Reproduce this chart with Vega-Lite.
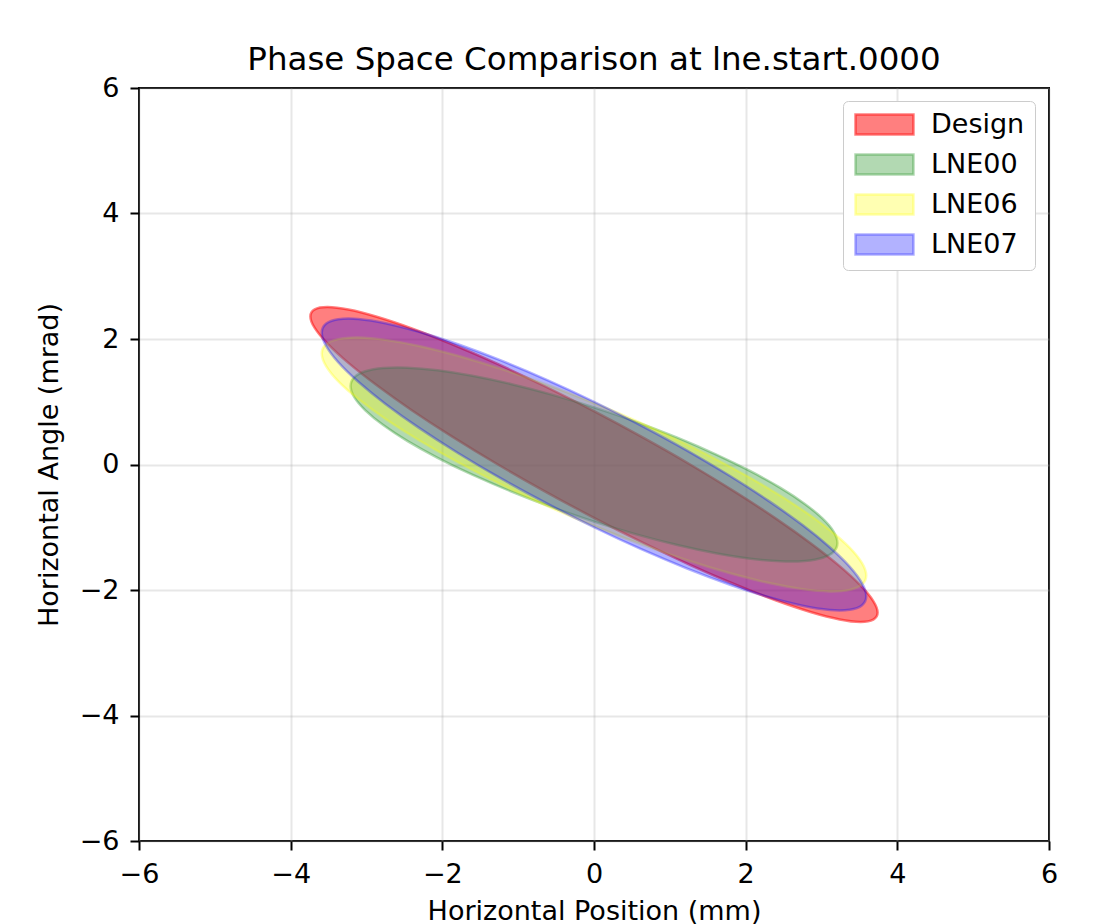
{
  "$schema": "https://vega.github.io/schema/vega-lite/v6.json",
  "autosize": {"type": "none"},
  "width": 910,
  "height": 753,
  "padding": {"left": 139, "top": 88, "right": 66, "bottom": 83},
  "background": "white",
  "title": {"text": "Phase Space Comparison at lne.start.0000", "font": "DejaVu Sans", "fontSize": 32.5, "fontWeight": "normal", "color": "black", "anchor": "middle", "baseline": "alphabetic", "offset": -28},
  "config": {
    "view": {"stroke": "black", "strokeWidth": 2},
    "axis": {"domain": false, "grid": true, "gridColor": "#b0b0b0", "gridOpacity": 0.3, "gridWidth": 2, "ticks": true, "tickColor": "black", "tickWidth": 2, "tickSize": 9, "labelFont": "DejaVu Sans", "labelFontSize": 27, "labelColor": "black", "labelPadding": 11, "labelFlush": false, "labelOverlap": false, "titleFont": "DejaVu Sans", "titleFontSize": 27, "titleFontWeight": "normal", "titleColor": "black", "labelExpr": "replace(datum.label, '-', '−')"},
    "legend": {"labelFont": "DejaVu Sans", "labelFontSize": 27, "labelColor": "black"}
  },
  "data": {"values": [
    {"s":"Design","i":0,"x":3.74,"y":-2.36},{"s":"Design","i":1,"x":3.683,"y":-2.176},{"s":"Design","i":2,"x":3.514,"y":-1.927},{"s":"Design","i":3,"x":3.239,"y":-1.619},{"s":"Design","i":4,"x":2.865,"y":-1.262},{"s":"Design","i":5,"x":2.404,"y":-0.866},{"s":"Design","i":6,"x":1.87,"y":-0.444},{"s":"Design","i":7,"x":1.279,"y":-0.008},{"s":"Design","i":8,"x":0.649,"y":0.427},{"s":"Design","i":9,"x":0,"y":0.85},{"s":"Design","i":10,"x":-0.649,"y":1.247},{"s":"Design","i":11,"x":-1.279,"y":1.606},{"s":"Design","i":12,"x":-1.87,"y":1.916},{"s":"Design","i":13,"x":-2.404,"y":2.168},{"s":"Design","i":14,"x":-2.865,"y":2.354},{"s":"Design","i":15,"x":-3.239,"y":2.469},{"s":"Design","i":16,"x":-3.514,"y":2.509},{"s":"Design","i":17,"x":-3.683,"y":2.472},{"s":"Design","i":18,"x":-3.74,"y":2.36},{"s":"Design","i":19,"x":-3.683,"y":2.176},{"s":"Design","i":20,"x":-3.514,"y":1.927},{"s":"Design","i":21,"x":-3.239,"y":1.619},{"s":"Design","i":22,"x":-2.865,"y":1.262},{"s":"Design","i":23,"x":-2.404,"y":0.866},{"s":"Design","i":24,"x":-1.87,"y":0.444},{"s":"Design","i":25,"x":-1.279,"y":0.008},{"s":"Design","i":26,"x":-0.649,"y":-0.427},{"s":"Design","i":27,"x":0,"y":-0.85},{"s":"Design","i":28,"x":0.649,"y":-1.247},{"s":"Design","i":29,"x":1.279,"y":-1.606},{"s":"Design","i":30,"x":1.87,"y":-1.916},{"s":"Design","i":31,"x":2.404,"y":-2.168},{"s":"Design","i":32,"x":2.865,"y":-2.354},{"s":"Design","i":33,"x":3.239,"y":-2.469},{"s":"Design","i":34,"x":3.514,"y":-2.509},{"s":"Design","i":35,"x":3.683,"y":-2.472},
    {"s":"LNE00","i":0,"x":3.21,"y":-1.25},{"s":"LNE00","i":1,"x":3.161,"y":-1.073},{"s":"LNE00","i":2,"x":3.016,"y":-0.864},{"s":"LNE00","i":3,"x":2.78,"y":-0.628},{"s":"LNE00","i":4,"x":2.459,"y":-0.373},{"s":"LNE00","i":5,"x":2.063,"y":-0.107},{"s":"LNE00","i":6,"x":1.605,"y":0.163},{"s":"LNE00","i":7,"x":1.098,"y":0.427},{"s":"LNE00","i":8,"x":0.557,"y":0.679},{"s":"LNE00","i":9,"x":0,"y":0.91},{"s":"LNE00","i":10,"x":-0.557,"y":1.113},{"s":"LNE00","i":11,"x":-1.098,"y":1.283},{"s":"LNE00","i":12,"x":-1.605,"y":1.413},{"s":"LNE00","i":13,"x":-2.063,"y":1.501},{"s":"LNE00","i":14,"x":-2.459,"y":1.543},{"s":"LNE00","i":15,"x":-2.78,"y":1.538},{"s":"LNE00","i":16,"x":-3.016,"y":1.486},{"s":"LNE00","i":17,"x":-3.161,"y":1.389},{"s":"LNE00","i":18,"x":-3.21,"y":1.25},{"s":"LNE00","i":19,"x":-3.161,"y":1.073},{"s":"LNE00","i":20,"x":-3.016,"y":0.864},{"s":"LNE00","i":21,"x":-2.78,"y":0.628},{"s":"LNE00","i":22,"x":-2.459,"y":0.373},{"s":"LNE00","i":23,"x":-2.063,"y":0.107},{"s":"LNE00","i":24,"x":-1.605,"y":-0.163},{"s":"LNE00","i":25,"x":-1.098,"y":-0.427},{"s":"LNE00","i":26,"x":-0.557,"y":-0.679},{"s":"LNE00","i":27,"x":0,"y":-0.91},{"s":"LNE00","i":28,"x":0.557,"y":-1.113},{"s":"LNE00","i":29,"x":1.098,"y":-1.283},{"s":"LNE00","i":30,"x":1.605,"y":-1.413},{"s":"LNE00","i":31,"x":2.063,"y":-1.501},{"s":"LNE00","i":32,"x":2.459,"y":-1.543},{"s":"LNE00","i":33,"x":2.78,"y":-1.538},{"s":"LNE00","i":34,"x":3.016,"y":-1.486},{"s":"LNE00","i":35,"x":3.161,"y":-1.389},
    {"s":"LNE06","i":0,"x":3.59,"y":-1.77},{"s":"LNE06","i":1,"x":3.535,"y":-1.573},{"s":"LNE06","i":2,"x":3.374,"y":-1.328},{"s":"LNE06","i":3,"x":3.109,"y":-1.043},{"s":"LNE06","i":4,"x":2.75,"y":-0.726},{"s":"LNE06","i":5,"x":2.308,"y":-0.387},{"s":"LNE06","i":6,"x":1.795,"y":-0.036},{"s":"LNE06","i":7,"x":1.228,"y":0.316},{"s":"LNE06","i":8,"x":0.623,"y":0.658},{"s":"LNE06","i":9,"x":0,"y":0.98},{"s":"LNE06","i":10,"x":-0.623,"y":1.272},{"s":"LNE06","i":11,"x":-1.228,"y":1.526},{"s":"LNE06","i":12,"x":-1.795,"y":1.734},{"s":"LNE06","i":13,"x":-2.308,"y":1.889},{"s":"LNE06","i":14,"x":-2.75,"y":1.986},{"s":"LNE06","i":15,"x":-3.109,"y":2.023},{"s":"LNE06","i":16,"x":-3.374,"y":1.998},{"s":"LNE06","i":17,"x":-3.535,"y":1.913},{"s":"LNE06","i":18,"x":-3.59,"y":1.77},{"s":"LNE06","i":19,"x":-3.535,"y":1.573},{"s":"LNE06","i":20,"x":-3.374,"y":1.328},{"s":"LNE06","i":21,"x":-3.109,"y":1.043},{"s":"LNE06","i":22,"x":-2.75,"y":0.726},{"s":"LNE06","i":23,"x":-2.308,"y":0.387},{"s":"LNE06","i":24,"x":-1.795,"y":0.036},{"s":"LNE06","i":25,"x":-1.228,"y":-0.316},{"s":"LNE06","i":26,"x":-0.623,"y":-0.658},{"s":"LNE06","i":27,"x":0,"y":-0.98},{"s":"LNE06","i":28,"x":0.623,"y":-1.272},{"s":"LNE06","i":29,"x":1.228,"y":-1.526},{"s":"LNE06","i":30,"x":1.795,"y":-1.734},{"s":"LNE06","i":31,"x":2.308,"y":-1.889},{"s":"LNE06","i":32,"x":2.75,"y":-1.986},{"s":"LNE06","i":33,"x":3.109,"y":-2.023},{"s":"LNE06","i":34,"x":3.374,"y":-1.998},{"s":"LNE06","i":35,"x":3.535,"y":-1.913},
    {"s":"LNE07","i":0,"x":3.59,"y":-2.1},{"s":"LNE07","i":1,"x":3.535,"y":-1.894},{"s":"LNE07","i":2,"x":3.374,"y":-1.631},{"s":"LNE07","i":3,"x":3.109,"y":-1.319},{"s":"LNE07","i":4,"x":2.75,"y":-0.966},{"s":"LNE07","i":5,"x":2.308,"y":-0.584},{"s":"LNE07","i":6,"x":1.795,"y":-0.184},{"s":"LNE07","i":7,"x":1.228,"y":0.222},{"s":"LNE07","i":8,"x":0.623,"y":0.62},{"s":"LNE07","i":9,"x":0,"y":1.0},{"s":"LNE07","i":10,"x":-0.623,"y":1.35},{"s":"LNE07","i":11,"x":-1.228,"y":1.658},{"s":"LNE07","i":12,"x":-1.795,"y":1.916},{"s":"LNE07","i":13,"x":-2.308,"y":2.116},{"s":"LNE07","i":14,"x":-2.75,"y":2.252},{"s":"LNE07","i":15,"x":-3.109,"y":2.319},{"s":"LNE07","i":16,"x":-3.374,"y":2.315},{"s":"LNE07","i":17,"x":-3.535,"y":2.242},{"s":"LNE07","i":18,"x":-3.59,"y":2.1},{"s":"LNE07","i":19,"x":-3.535,"y":1.894},{"s":"LNE07","i":20,"x":-3.374,"y":1.631},{"s":"LNE07","i":21,"x":-3.109,"y":1.319},{"s":"LNE07","i":22,"x":-2.75,"y":0.966},{"s":"LNE07","i":23,"x":-2.308,"y":0.584},{"s":"LNE07","i":24,"x":-1.795,"y":0.184},{"s":"LNE07","i":25,"x":-1.228,"y":-0.222},{"s":"LNE07","i":26,"x":-0.623,"y":-0.62},{"s":"LNE07","i":27,"x":0,"y":-1.0},{"s":"LNE07","i":28,"x":0.623,"y":-1.35},{"s":"LNE07","i":29,"x":1.228,"y":-1.658},{"s":"LNE07","i":30,"x":1.795,"y":-1.916},{"s":"LNE07","i":31,"x":2.308,"y":-2.116},{"s":"LNE07","i":32,"x":2.75,"y":-2.252},{"s":"LNE07","i":33,"x":3.109,"y":-2.319},{"s":"LNE07","i":34,"x":3.374,"y":-2.315},{"s":"LNE07","i":35,"x":3.535,"y":-2.242}
  ]},
  "encoding": {
    "x": {"field": "x", "type": "quantitative", "scale": {"domain": [-6, 6], "nice": false, "zero": false}, "axis": {"values": [-6, -4, -2, 0, 2, 4, 6], "title": "Horizontal Position (mm)", "titleBaseline": "alphabetic", "titleX": 455, "titleY": 78}},
    "y": {"field": "y", "type": "quantitative", "scale": {"domain": [-6, 6], "nice": false, "zero": false}, "axis": {"values": [-6, -4, -2, 0, 2, 4, 6], "title": "Horizontal Angle (mrad)", "titleBaseline": "alphabetic", "titleAngle": -90, "titleX": -82, "titleY": 376.5, "titleAlign": "center"}},
    "order": {"field": "i", "type": "quantitative"},
    "fill": {"field": "s", "type": "nominal", "scale": {"domain": ["Design", "LNE00", "LNE06", "LNE07"], "range": ["#ff0000", "#008000", "#ffff00", "#0000ff"]}, "legend": {"title": null, "orient": "none", "legendX": 704, "legendY": 13, "padding": 10, "fillColor": "white", "strokeColor": "#cccccc", "cornerRadius": 5, "symbolType": "M-1,-0.9H4.27V0.9H-1Z", "symbolSize": 484, "symbolStrokeWidth": 2.5, "labelOffset": 51, "rowPadding": 9, "labelBaseline": "middle", "encode": {"symbols": {"update": {"fill": {"scale": "fill", "field": "value"}, "stroke": {"scale": "stroke", "field": "value"}, "fillOpacity": {"signal": "datum.value === 'Design' ? 0.5 : 0.3"}, "strokeOpacity": {"signal": "datum.value === 'Design' ? 0.5 : 0.3"}, "opacity": {"value": 1}}}}}},
    "stroke": {"field": "s", "type": "nominal", "scale": {"domain": ["Design", "LNE00", "LNE06", "LNE07"], "range": ["#ff0000", "#008000", "#ffff00", "#0000ff"]}, "legend": null}
  },
  "layer": [
    {"transform": [{"filter": "datum.s === 'Design'"}], "mark": {"type": "line", "interpolate": "cardinal-closed", "strokeWidth": 2.5, "fillOpacity": 0.5, "strokeOpacity": 0.5}},
    {"transform": [{"filter": "datum.s === 'LNE00'"}], "mark": {"type": "line", "interpolate": "cardinal-closed", "strokeWidth": 2.5, "fillOpacity": 0.3, "strokeOpacity": 0.3}},
    {"transform": [{"filter": "datum.s === 'LNE06'"}], "mark": {"type": "line", "interpolate": "cardinal-closed", "strokeWidth": 2.5, "fillOpacity": 0.3, "strokeOpacity": 0.3}},
    {"transform": [{"filter": "datum.s === 'LNE07'"}], "mark": {"type": "line", "interpolate": "cardinal-closed", "strokeWidth": 2.5, "fillOpacity": 0.3, "strokeOpacity": 0.3}}
  ]
}
